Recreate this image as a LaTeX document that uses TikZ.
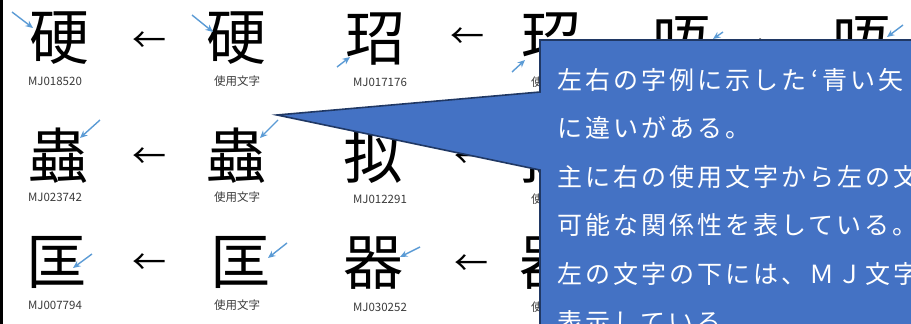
\documentclass[tikz,border=0pt]{standalone}
\usepackage{fontspec}
\newfontfamily\jp{Noto Sans CJK JP}
\newfontfamily\jpls[LetterSpace=12]{Noto Sans CJK JP}
\usetikzlibrary{arrows.meta}
\definecolor{calloutfill}{HTML}{4472C4}
\definecolor{calloutline}{HTML}{203864}
\definecolor{hint}{HTML}{5B9BD5}
\definecolor{labgray}{HTML}{3A3A3A}
\begin{document}
\begin{tikzpicture}[x=1pt,y=-1pt,
  kanji/.style={inner sep=0pt, font=\jp\fontsize{60}{60}\selectfont},
  larr/.style={inner sep=0pt, font=\jp\fontsize{34}{34}\selectfont},
  lab/.style={inner sep=0pt, text=labgray, font=\jp\fontsize{11.5}{12}\selectfont},
  hintarr/.style={draw=hint, line width=1.4pt, -{Stealth[length=7.5pt,width=6.5pt]}},
  ctext/.style={inner sep=0pt, anchor=base west, text=white, font=\jpls\fontsize{25}{25}\selectfont},
]
\useasboundingbox (0,0) rectangle (911,324);
\clip (0,0) rectangle (911,324);
\fill[white] (0,0) rectangle (911,324);
\fill[black] (0,0) rectangle (3,324);

% row 1
\node[kanji] (r1c1) at (60,38) {硬};
\node[larr]  (r1a1) at (149,42) {←};
\node[kanji] (r1c2) at (236,38) {硬};
\node[kanji] (r1c3) at (375,39) {玿};
\node[larr]  (r1a2) at (467,38) {←};
\node[kanji] (r1c4) at (551,39) {玿};
\node[kanji] (r1c5) at (682,43) {唔};
\node[larr]  (r1a3) at (767,49) {←};
\node[kanji] (r1c6) at (862,43) {唔};
\node[lab] (r1l1) at (55,81) {MJ018520};
\node[lab] (r1l2) at (237,81) {使用文字};
\node[lab] (r1l3) at (380,82) {MJ017176};
\node[lab] (r1l4) at (554,82) {使用文字};

% row 2
\node[kanji] (r2c1) at (58,156) {蟲};
\node[larr]  (r2a1) at (149,158) {←};
\node[kanji] (r2c2) at (236,156) {蟲};
\node[kanji] (r2c3) at (373,156) {拟};
\node[larr]  (r2a2) at (471,158) {←};
\node[kanji] (r2c4) at (549,156) {拟};
\node[lab] (r2l1) at (55,197) {MJ023742};
\node[lab] (r2l2) at (237,197) {使用文字};
\node[lab] (r2l3) at (380,199) {MJ012291};
\node[lab] (r2l4) at (554,199) {使用文字};

% row 3
\node[kanji] (r3c1) at (56,262) {匡};
\node[larr]  (r3a1) at (149,264) {←};
\node[kanji] (r3c2) at (240,262) {匡};
\node[kanji] (r3c3) at (373,263) {器};
\node[larr]  (r3a2) at (471,265) {←};
\node[kanji] (r3c4) at (549,263) {器};
\node[lab] (r3l1) at (55,305) {MJ007794};
\node[lab] (r3l2) at (237,305) {使用文字};
\node[lab] (r3l3) at (380,307) {MJ030252};
\node[lab] (r3l4) at (554,307) {使用文字};

% blue hint arrows
\coordinate (h1s) at (12,12);   \coordinate (h1e) at (33,28);
\coordinate (h2s) at (192,15);  \coordinate (h2e) at (213,32);
\coordinate (h3s) at (337,67);  \coordinate (h3e) at (350,57);
\coordinate (h4s) at (512,72);  \coordinate (h4e) at (525,60);
\coordinate (h5s) at (723,32);  \coordinate (h5e) at (713,39);
\coordinate (h6s) at (903,25);  \coordinate (h6e) at (887,37);
\coordinate (h7s) at (100,120); \coordinate (h7e) at (80,138);
\coordinate (h8s) at (278,120); \coordinate (h8e) at (260,138);
\coordinate (h9s) at (92,254);  \coordinate (h9e) at (73,268);
\coordinate (h10s) at (287,243); \coordinate (h10e) at (268,258);
\coordinate (h11s) at (420,247); \coordinate (h11e) at (400,257);
\foreach \i in {1,...,11} {\draw[hintarr] (h\i s) -- (h\i e);}

% callout
\coordinate (tip) at (277,115);
\filldraw[fill=calloutfill, draw=calloutline, line width=1.6pt, line join=miter]
  (540,40) -- (920,40) -- (920,330) -- (540,330) -- (540,170) -- (tip) -- (540,92) -- cycle;

\node[ctext] (t1) at (557,89)    {左右の字例に示した\kern5pt‘\kern4pt 青い矢};
\node[ctext] (t2) at (557,137.5) {に違いがある。};
\node[ctext] (t3) at (557,186)   {主に右の使用文字から左の文};
\node[ctext] (t4) at (557,234.5) {可能な関係性を表している。};
\node[ctext] (t5) at (557,283)   {左の文字の下には、ＭＪ文字};
\node[ctext] (t6) at (557,331.5) {表示している};
\end{tikzpicture}
\end{document}
